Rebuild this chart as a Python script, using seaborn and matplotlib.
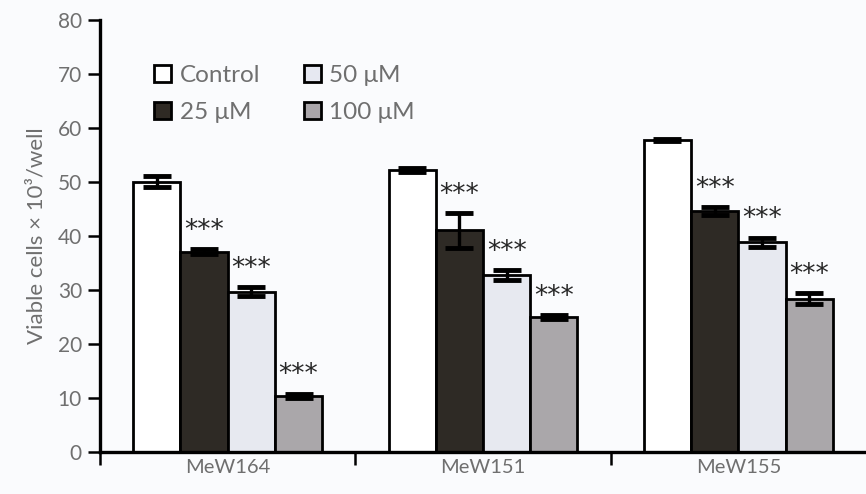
import matplotlib
matplotlib.use('Agg')
import matplotlib.pyplot as plt
import seaborn as sns
import pandas as pd
from matplotlib.patches import Patch

cell_lines = ["MeW164", "MeW151", "MeW155"]
doses = ["Control", "25 \u03bcM", "50 \u03bcM", "100 \u03bcM"]
control = [50.0, 52.2, 57.7]
dose25 = [37.1, 41.0, 44.6]
dose50 = [29.7, 32.7, 38.8]
dose100 = [10.4, 25.0, 28.4]
control_err = [1.0, 0.4, 0.2]
dose25_err = [0.4, 3.2, 0.7]
dose50_err = [0.8, 0.9, 0.9]
dose100_err = [0.4, 0.3, 1.0]
stars = ["", "***", "***", "***"]

colors = ["#ffffff", "#2f2a24", "#e6e8f1", "#aaa6aa"]
text_grey = "#6f6f6f"

rows = []
for dose, vals, errs in zip(doses, [control, dose25, dose50, dose100],
                            [control_err, dose25_err, dose50_err, dose100_err]):
    for line, v, e in zip(cell_lines, vals, errs):
        rows.append({"line": line, "dose": dose, "value": v, "err": e})
df = pd.DataFrame(rows)

sns.set_style("ticks")
plt.rcParams['font.family'] = ['Lato', 'DejaVu Sans']

fig = plt.figure(figsize=(8.66, 4.94), dpi=100, facecolor="#fafbfd")
ax = fig.add_axes([0.1155, 0.085, 0.8845, 0.875])
ax.set_facecolor("#fafbfd")

sns.barplot(data=df, x="line", y="value", hue="dose", order=cell_lines,
            hue_order=doses, palette=colors, width=0.74, gap=0,
            edgecolor="black", linewidth=2.0, errorbar=None, legend=False, ax=ax)

bar_containers = list(ax.containers)
for i, cont in enumerate(bar_containers):
    sub = df[df["dose"] == doses[i]].set_index("line").loc[cell_lines]
    xs = [p.get_x() + p.get_width() / 2 for p in cont.patches]
    ax.errorbar(xs, sub["value"], yerr=sub["err"], fmt="none", ecolor="black",
                elinewidth=2.4, capsize=10, capthick=3.5, zorder=5)
    if stars[i]:
        for x, v, e in zip(xs, sub["value"], sub["err"]):
            ax.text(x, v + e + 3.4, stars[i], ha="center", va="center",
                    fontsize=19, color="#262626", family="DejaVu Sans")

ax.set_ylim(0, 80)
ax.set_xlim(-0.5, 2.5)
ax.set_yticks(range(0, 81, 10))
ax.set_xticks([0, 1, 2])
ax.set_xticklabels(cell_lines)
ax.set_xticks([-0.5, 0.5, 1.5], minor=True)
ax.tick_params(axis="x", which="major", length=0, pad=5, labelsize=14.5, labelcolor=text_grey)
ax.tick_params(axis="x", which="minor", length=9, width=1.8, color="black", direction="out")
ax.tick_params(axis="y", length=9, width=1.8, color="black", pad=4, labelsize=15, labelcolor=text_grey)
ax.set_xlabel("")
ax.set_ylabel("Viable cells \u00d7 10\u00b3/well", fontsize=16, color=text_grey, labelpad=8)

sns.despine(ax=ax, top=True, right=True)
for s in ["left", "bottom"]:
    ax.spines[s].set_linewidth(2.4)
    ax.spines[s].set_color("black")

handles = [Patch(facecolor=c, edgecolor="black", linewidth=2.0) for c in colors]
leg = ax.legend(handles, doses, ncol=2, frameon=False, loc="upper left",
                bbox_to_anchor=(0.058, 0.918), fontsize=17.5, handlelength=0.7,
                handleheight=0.7, handletextpad=0.35, columnspacing=1.8,
                labelspacing=0.65, borderaxespad=0)
for t in leg.get_texts():
    t.set_color(text_grey)

fig.savefig("out.png", dpi=100, facecolor=fig.get_facecolor())
